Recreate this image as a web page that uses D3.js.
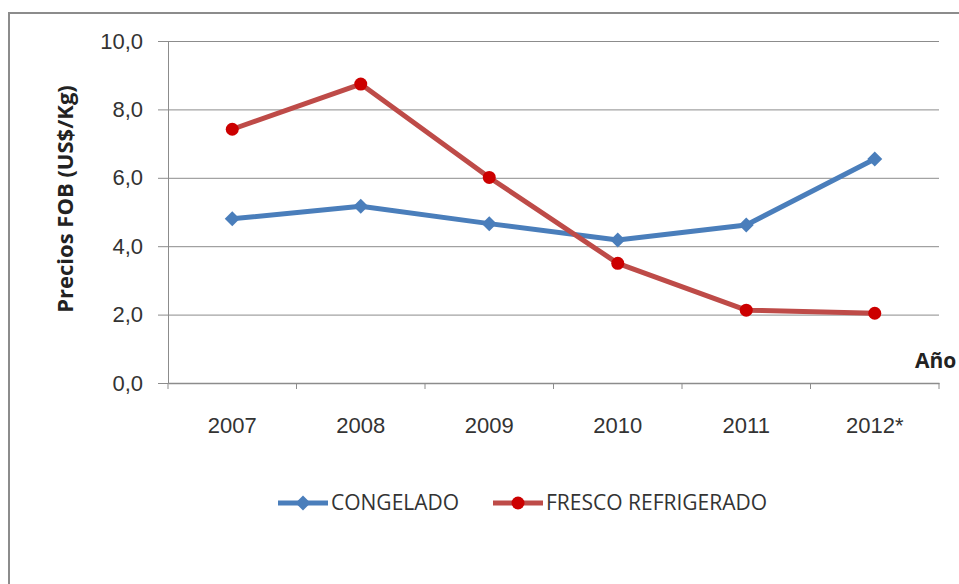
<!DOCTYPE html>
<html>
<head>
<meta charset="utf-8">
<script src="https://cdn.jsdelivr.net/npm/d3@7"></script>
<style>
  body { margin: 0; background: #fff; }
  svg { display: block; font-family: "Open Sans", "Liberation Sans", sans-serif; }
</style>
</head>
<body>
<div id="chart"></div>
<script>
var years = ["2007", "2008", "2009", "2010", "2011", "2012*"];
var congelado = [4.80, 5.17, 4.66, 4.18, 4.62, 6.55];
var fresco = [7.42, 8.74, 6.01, 3.50, 2.13, 2.04];
var yTicks = [0, 2, 4, 6, 8, 10];
var seriesNames = ["CONGELADO", "FRESCO REFRIGERADO"];

var width = 959, height = 584,
    margin = { top: 41, right: 20, bottom: 201, left: 168 };

var svg = d3.select("#chart").append("svg")
    .attr("width", width)
    .attr("height", height);

// outer frame
svg.append("rect")
    .attr("x", 9).attr("y", 13)
    .attr("width", width + 10).attr("height", height)
    .attr("fill", "none")
    .attr("stroke", "#8c8c8c")
    .attr("stroke-width", 2);

var x = d3.scaleBand()
    .domain(years)
    .range([margin.left, 939]);

var y = d3.scaleLinear()
    .domain([0, 10])
    .range([383, margin.top]);

var fmt = function (d) { return d3.format(".1f")(d).replace(".", ","); };

// gridlines + y labels
var gy = svg.append("g").attr("class", "axis y")
    .attr("transform", "translate(" + margin.left + ",0)")
    .call(d3.axisLeft(y).tickValues(yTicks).tickFormat(fmt).tickSize(10).tickPadding(15));
gy.select(".domain").attr("stroke", "#8c8c8c");
gy.selectAll(".tick line").attr("stroke", "#8c8c8c");
gy.selectAll(".tick text").attr("fill", "#333").style("font-size", "22px");
gy.selectAll(".tick").filter(function (d) { return d > 0; })
    .append("line")
    .attr("x1", 0).attr("x2", 939 - margin.left)
    .attr("stroke", "#8c8c8c");

// x axis
var gx = svg.append("g").attr("class", "axis x")
    .attr("transform", "translate(0," + y(0) + ")")
    .call(d3.axisBottom(x).tickSize(0).tickPadding(34));
gx.select(".domain").attr("stroke", "#8c8c8c").attr("stroke-width", 1.5);
gx.selectAll(".tick text").attr("fill", "#333").style("font-size", "22px");
// category boundary ticks
gx.selectAll("line.bound")
    .data(years.map(function (d) { return x(d); }).concat([x(years[years.length - 1]) + x.bandwidth()]))
    .enter().append("line")
    .attr("class", "bound")
    .attr("x1", function (d) { return d; }).attr("x2", function (d) { return d; })
    .attr("y1", 0).attr("y2", 6)
    .attr("stroke", "#8c8c8c");

// axis titles
svg.append("text")
    .attr("transform", "translate(73,199) rotate(-90)")
    .attr("text-anchor", "middle")
    .style("font-size", "22px")
    .style("font-weight", "bold")
    .attr("fill", "#222")
    .text("Precios FOB (US$/Kg)");

svg.append("text")
    .attr("x", 915).attr("y", 368)
    .style("font-size", "21px")
    .style("font-weight", "bold")
    .attr("fill", "#222")
    .text("Año");

var cx = function (d, i) { return x(years[i]) + x.bandwidth() / 2; };
var line = d3.line()
    .x(cx)
    .y(function (d) { return y(d); });

var diamond = "M0,-7.5L7.5,0L0,7.5L-7.5,0Z";

// CONGELADO
svg.append("path")
    .datum(congelado)
    .attr("d", line)
    .attr("fill", "none")
    .attr("stroke", "#4a7ebb")
    .attr("stroke-width", 5)
    .attr("stroke-linejoin", "round");
svg.selectAll("path.dia")
    .data(congelado)
    .enter().append("path")
    .attr("class", "dia")
    .attr("d", diamond)
    .attr("transform", function (d, i) { return "translate(" + cx(d, i) + "," + y(d) + ")"; })
    .attr("fill", "#4a7ebb");

// FRESCO REFRIGERADO
svg.append("path")
    .datum(fresco)
    .attr("d", line)
    .attr("fill", "none")
    .attr("stroke", "#be4b48")
    .attr("stroke-width", 5)
    .attr("stroke-linejoin", "round");
svg.selectAll("circle.dot")
    .data(fresco)
    .enter().append("circle")
    .attr("class", "dot")
    .attr("cx", cx)
    .attr("cy", function (d) { return y(d); })
    .attr("r", 6.5)
    .attr("fill", "#cc0000");

// legend
var legend = [
    { name: seriesNames[0], x: 278, color: "#4a7ebb", marker: "diamond" },
    { name: seriesNames[1], x: 493, color: "#be4b48", marker: "circle" }
];
var lg = svg.selectAll("g.legend")
    .data(legend)
    .enter().append("g")
    .attr("class", "legend")
    .attr("transform", function (d) { return "translate(" + d.x + ",503)"; });
lg.append("line")
    .attr("x1", 0).attr("x2", 50)
    .attr("stroke", function (d) { return d.color; })
    .attr("stroke-width", 5);
lg.each(function (d) {
    var g = d3.select(this);
    if (d.marker === "diamond") {
        g.append("path").attr("d", diamond).attr("transform", "translate(25,0)").attr("fill", d.color);
    } else {
        g.append("circle").attr("cx", 25).attr("r", 6.5).attr("fill", "#cc0000");
    }
});
lg.append("text")
    .attr("x", 53).attr("dy", "0.35em")
    .style("font-size", "21px")
    .attr("fill", "#333")
    .text(function (d) { return d.name; });
</script>
</body>
</html>
